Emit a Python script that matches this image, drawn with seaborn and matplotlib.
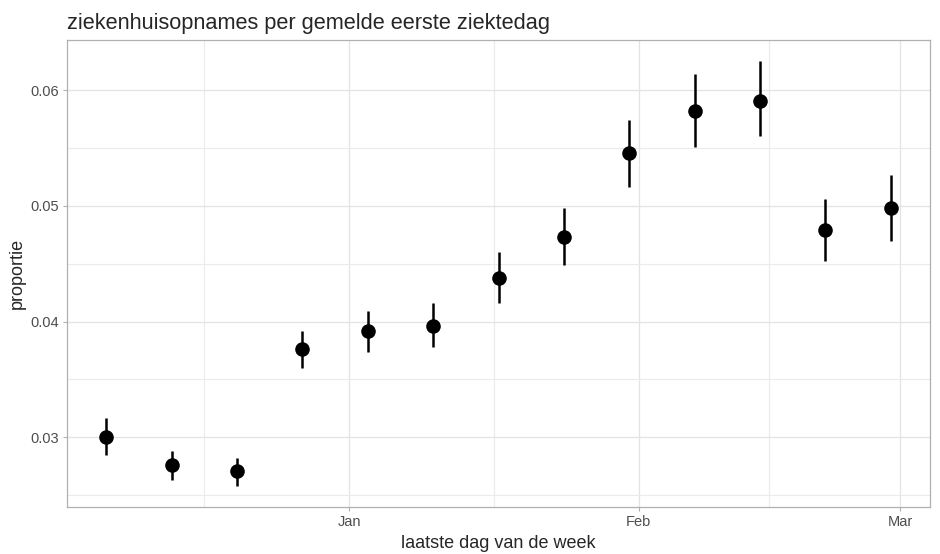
import numpy as np
import pandas as pd
import matplotlib
matplotlib.use("Agg")
import matplotlib.pyplot as plt
import matplotlib.dates as mdates
import seaborn as sns

# weekly data: last day of the week, proportion and interval
week_end = ["2020-12-06", "2020-12-13", "2020-12-20", "2020-12-27", "2021-01-03",
            "2021-01-10", "2021-01-17", "2021-01-24", "2021-01-31", "2021-02-07",
            "2021-02-14", "2021-02-21", "2021-02-28"]
proportie = [0.0300, 0.0276, 0.0271, 0.0376, 0.0392, 0.0396, 0.0438,
             0.0473, 0.0546, 0.0582, 0.0591, 0.0479, 0.0498]
lower = [0.0285, 0.0263, 0.0258, 0.0360, 0.0374, 0.0378, 0.0416,
         0.0449, 0.0516, 0.0551, 0.0560, 0.0452, 0.0470]
upper = [0.0317, 0.0288, 0.0282, 0.0392, 0.0409, 0.0416, 0.0460,
         0.0498, 0.0574, 0.0614, 0.0625, 0.0506, 0.0527]

month_starts = ["2020-12-01", "2021-01-01", "2021-02-01", "2021-03-01"]

df = pd.DataFrame({"datum": pd.to_datetime(week_end), "proportie": proportie,
                   "lower": lower, "upper": upper})

sns.set_theme(style="white")
plt.rcParams['font.family'] = ['Liberation Sans', 'DejaVu Sans']

fig = plt.figure(figsize=(9.4, 5.54), dpi=100)
ax = fig.add_axes([67 / 940, 1 - 507 / 554, (930 - 67) / 940, (507 - 40) / 554])

# error bars and points
ax.vlines(df["datum"], df["lower"], df["upper"], color="black", lw=1.8, zorder=3)
sns.scatterplot(data=df, x="datum", y="proportie", ax=ax, color="black",
                s=110, edgecolor="black", linewidth=0, zorder=4)

# ggplot-like limits (5% expansion)
xmin, xmax = df["datum"].min(), df["datum"].max()
pad = (xmax - xmin) * 0.05
ax.set_xlim(xmin - pad, xmax + pad)
ymin, ymax = min(lower), max(upper)
ypad = (ymax - ymin) * 0.05
ax.set_ylim(ymin - ypad, ymax + ypad)

# minor breaks halfway between month starts
ms = mdates.date2num(pd.to_datetime(month_starts))
minor_x = (ms[:-1] + ms[1:]) / 2
ax.xaxis.set_major_locator(mdates.MonthLocator())
ax.xaxis.set_major_formatter(mdates.DateFormatter("%b"))
ax.set_xticks(minor_x, minor=True)
ax.set_yticks([0.03, 0.04, 0.05, 0.06])
ax.set_yticklabels(["0.03", "0.04", "0.05", "0.06"])
ax.set_yticks([0.025, 0.035, 0.045, 0.055], minor=True)

ax.grid(True, which="major", color="#e3e3e3", lw=0.9)
ax.grid(True, which="minor", color="#ebebeb", lw=0.8)
ax.set_axisbelow(True)
for s in ax.spines.values():
    s.set_color("#b0b0b0")
    s.set_linewidth(0.9)

ax.tick_params(axis="both", which="major", length=3, width=0.8, color="#b0b0b0",
               labelsize=10.5, labelcolor="#4d4d4d", bottom=True, left=True, pad=3)
ax.tick_params(axis="both", which="minor", length=0)

ax.set_xlabel("laatste dag van de week", fontsize=13, labelpad=4)
ax.set_ylabel("proportie", fontsize=13, labelpad=3)
ax.set_title("ziekenhuisopnames per gemelde eerste ziektedag", loc="left",
             fontsize=15.7, pad=8)

fig.savefig("out.png", dpi=100)
